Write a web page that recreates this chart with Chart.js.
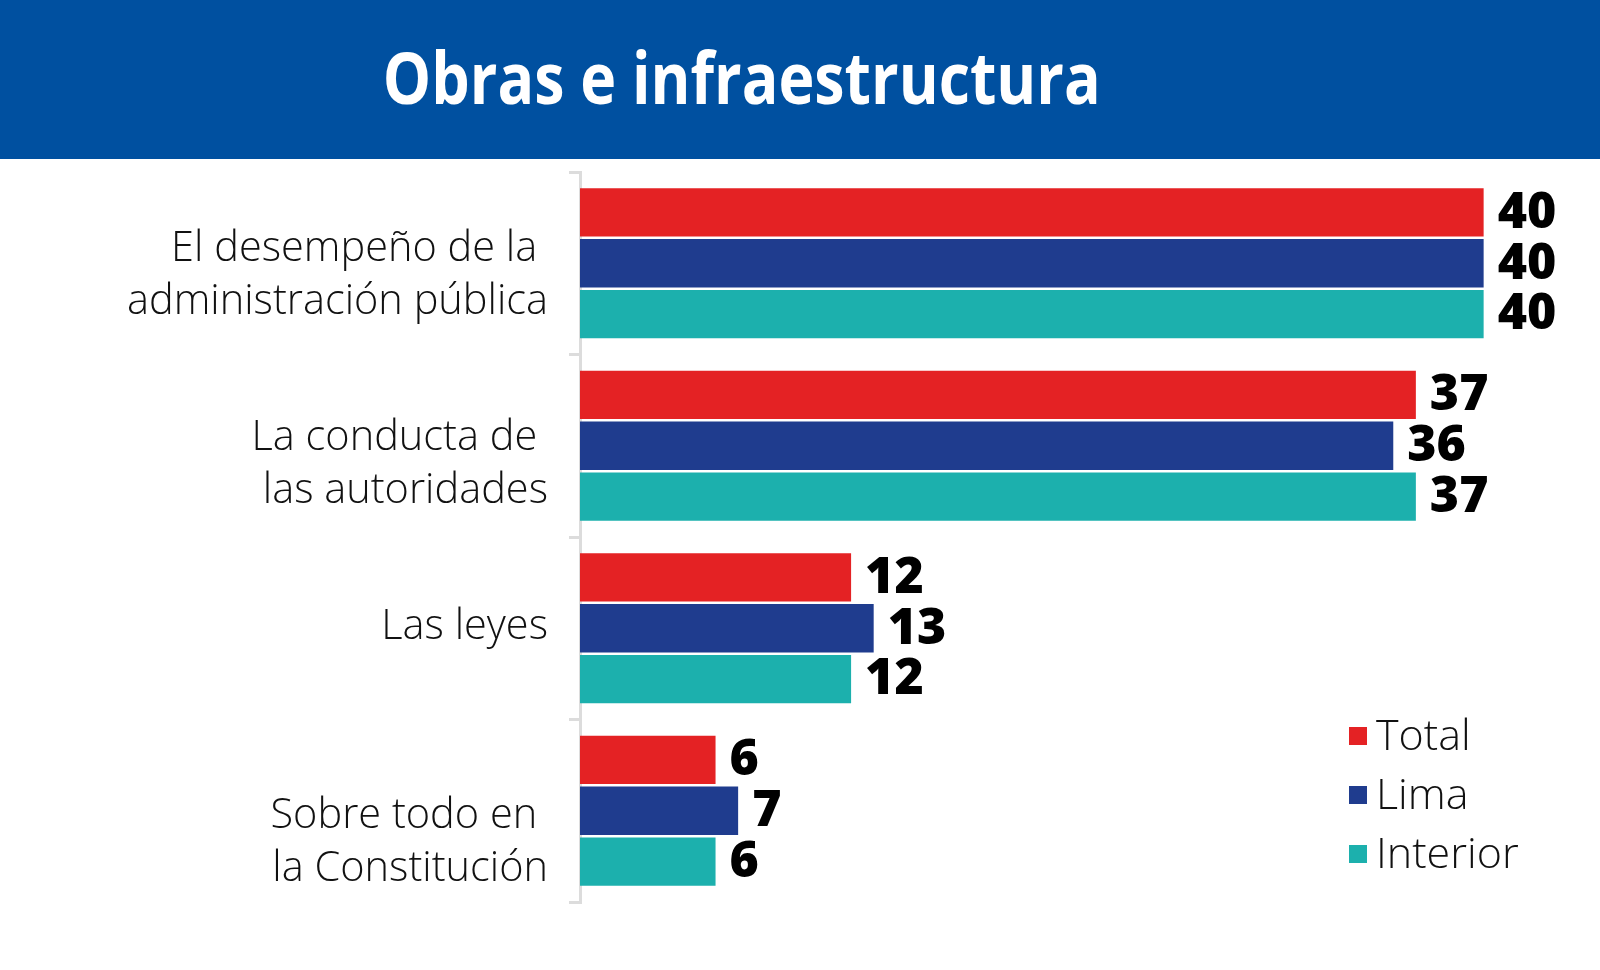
<!DOCTYPE html>
<html>
<head>
<meta charset="utf-8">
<script src="https://cdn.jsdelivr.net/npm/chart.js@4.4.1/dist/chart.umd.min.js"></script>
<style>
    html, body { margin: 0; padding: 0; background: #fff; }
    #wrap { position: relative; width: 1600px; height: 970px; overflow: hidden; }
    #header {
        position: absolute; left: 0; top: 0; width: 1600px; height: 159px;
        background: #0050a0; color: #fff;
        font-family: 'Open Sans', sans-serif; font-weight: 700; font-size: 72px;
        display: flex; align-items: center; justify-content: center;
    }
    #header span { position: relative; left: -58px; top: -4px; display: inline-block; transform: scaleX(0.845); white-space: nowrap; }
    #legend { position: absolute; left: 1349px; top: 704px; font-family: 'Open Sans', sans-serif; font-weight: 300; font-size: 43px; color: #111; }
    #legend div { display: flex; align-items: center; height: 59px; }
    #legend i { display: inline-block; width: 18px; height: 18px; margin-right: 9px; margin-top: 4px; }
    canvas { position: absolute; left: 0; top: 0; }
</style>
</head>
<body>
<div id="wrap">
    <canvas id="chart" width="1600" height="970"></canvas>
    <div id="header"><span>Obras e infraestructura</span></div>
    <div id="legend"></div>
</div>
<script>
// Categories (multi-line labels) and values per series
const categories = [
    ['El desempeño de la ', 'administración pública'],
    ['La conducta de ', 'las autoridades'],
    ['Las leyes'],
    ['Sobre todo en ', 'la Constitución']
];
const seriesNames = ['Total', 'Lima', 'Interior'];
const totalValues = [40, 37, 12, 6];
const limaValues = [40, 36, 13, 7];
const interiorValues = [40, 37, 12, 6];

const colors = {
    total: '#e42224',    // red
    lima: '#1f3c8e',     // dark blue
    interior: '#1cb0ad'  // teal
};

// category labels in the original sit a bit off the band centre
const labelShift = [12, 19, -1, 32];

// Draws the number at the end of each bar
const valueLabels = {
    id: 'valueLabels',
    afterDatasetsDraw(chart) {
        const ctx = chart.ctx;
        ctx.save();
        ctx.font = "800 50px 'Open Sans', sans-serif";
        ctx.fillStyle = '#000';
        ctx.textAlign = 'left';
        ctx.textBaseline = 'middle';
        chart.data.datasets.forEach((ds, i) => {
            chart.getDatasetMeta(i).data.forEach((bar, j) => {
                ctx.fillText(ds.data[j], bar.x + 14, bar.y + 1);
            });
        });
        ctx.restore();
    }
};

// Draws the category labels next to the y axis
const categoryLabels = {
    id: 'categoryLabels',
    afterDraw(chart) {
        const ctx = chart.ctx;
        const scale = chart.scales.y;
        const lh = 53;
        ctx.save();
        ctx.font = "300 41.5px 'Open Sans', sans-serif";
        ctx.fillStyle = '#111';
        ctx.textAlign = 'right';
        ctx.textBaseline = 'middle';
        const x = scale.right - 11 - 21;
        chart.data.labels.forEach((lines, i) => {
            const yc = scale.getPixelForTick(i) + labelShift[i];
            lines.forEach((line, k) => {
                ctx.fillText(line, x, yc - (lines.length - 1) * lh / 2 + k * lh);
            });
        });
        ctx.restore();
    }
};

const barStyle = { barPercentage: 0.95, categoryPercentage: 0.835, borderWidth: 0 };

const chart = new Chart(document.getElementById('chart').getContext('2d'), {
    type: 'bar',
    data: {
        labels: categories,
        datasets: [
            { label: seriesNames[0], data: totalValues, backgroundColor: colors.total, ...barStyle },
            { label: seriesNames[1], data: limaValues, backgroundColor: colors.lima, ...barStyle },
            { label: seriesNames[2], data: interiorValues, backgroundColor: colors.interior, ...barStyle }
        ]
    },
    options: {
        indexAxis: 'y',
        responsive: false,
        animation: false,
        layout: { padding: { top: 172, right: 26, bottom: 68, left: 0 } },
        plugins: {
            legend: { display: false },
            tooltip: { enabled: false }
        },
        scales: {
            x: { display: false, min: 0, max: 44 },
            y: {
                afterFit(scale) { scale.width = 580; },
                grid: { drawOnChartArea: false, drawTicks: true, tickLength: 11, color: '#dcdcdc', lineWidth: 3 },
                border: { display: true, color: '#dcdcdc', width: 3 },
                ticks: { display: false }
            }
        }
    },
    plugins: [valueLabels, categoryLabels]
});

// HTML legend built from the datasets
const legendEl = document.getElementById('legend');
chart.data.datasets.forEach(ds => {
    const row = document.createElement('div');
    const sw = document.createElement('i');
    sw.style.background = ds.backgroundColor;
    row.appendChild(sw);
    row.appendChild(document.createTextNode(ds.label));
    legendEl.appendChild(row);
});
</script>
</body>
</html>
